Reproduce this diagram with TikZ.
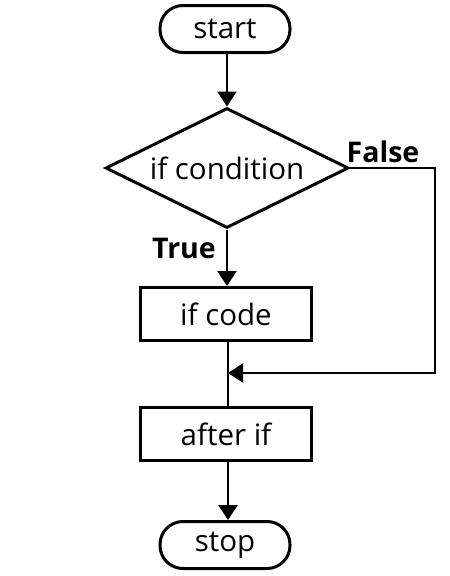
\documentclass[tikz,border=0pt]{standalone}
\usepackage{fontspec}
\setmainfont{Open Sans}
\usetikzlibrary{arrows.meta,shapes.geometric}
\tikzset{
  txt/.style={font=\fontsize{29.5}{32}\selectfont},
  term/.style={draw,line width=3pt,rounded corners=23pt,minimum width=130pt,minimum height=47pt,inner sep=0pt,txt},
  proc/.style={draw,line width=3pt,minimum width=171pt,minimum height=53pt,inner sep=0pt,txt},
  dec/.style={draw,line width=3pt,diamond,minimum width=243pt,minimum height=120pt,inner sep=0pt},
  conn/.style={line width=2.2pt,-{Triangle[length=15pt,width=19pt]}},
  lbl/.style={font=\bfseries\fontsize{28.5}{31}\selectfont,inner sep=0pt}
}
\begin{document}
\begin{tikzpicture}[x=1pt,y=-1pt]
\useasboundingbox (0,0) rectangle (450,576);
\node[term] (start) at (225,29) {start};
\node[dec] (cond) at (227,168) {};
\node[txt,inner sep=0pt] (condtext) at (227,168) {if condition};
\node[proc] (ifcode) at (226,314) {if code};
\node[proc] (after) at (226,434) {after if};
\node[term] (stop) at (225,545) {stop};
\coordinate (fr) at (435,168);
\coordinate (fb) at (435,373);
\coordinate (merge) at (228,373);
\draw[conn] (start.south -| cond.north) -- (cond.north);
\draw[conn] (cond.south) -- (ifcode.north -| cond.south);
\draw[line width=2.2pt] (ifcode.south -| merge) -- (after.north -| merge);
\draw[conn,line join=miter] (cond.east) -- (fr) -- (fb) -- (merge);
\draw[conn] (after.south -| merge) -- (stop.north -| merge);
\node[lbl] (f) at (383,152) {False};
\node[lbl] (t) at (184,248) {True};
\end{tikzpicture}
\end{document}
